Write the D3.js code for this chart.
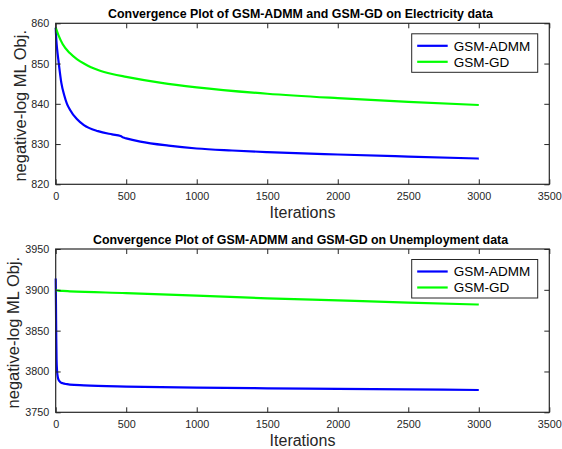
<!DOCTYPE html>
<html>
<head>
<meta charset="utf-8">
<script src="https://cdn.jsdelivr.net/npm/d3@7/dist/d3.min.js"></script>
<style>
  html, body { margin: 0; padding: 0; background: #fff; }
  svg { display: block; font-family: "Liberation Sans", Arial, Helvetica, sans-serif; }
</style>
</head>
<body>
<svg id="chart" width="562" height="449"></svg>
<script>
// Series names
const seriesNames = ["GSM-ADMM", "GSM-GD"];
const seriesColors = ["#0000ff", "#00ff00"];

// Shared x ticks
const xTicks = [0, 500, 1000, 1500, 2000, 2500, 3000, 3500];

// Electricity data: objective vs iteration
const elecAdmmIter = [0, 5, 10, 20, 40, 60, 80, 100, 150, 200, 300, 400, 460, 480, 500, 600, 800, 1000, 1250, 1500, 2000, 2500, 3000];
const elecAdmmVal  = [858.9, 855.6, 853.6, 850.6, 845.2, 842.2, 840.0, 838.6, 836.2, 834.7, 833.2, 832.4, 832.0, 831.6, 831.4, 830.6, 829.6, 828.9, 828.4, 828.0, 827.4, 826.9, 826.4];
const elecGdIter   = [0, 20, 50, 100, 150, 200, 250, 300, 400, 500, 750, 1000, 1500, 2000, 2500, 3000];
const elecGdVal    = [858.9, 857.0, 854.8, 852.6, 851.1, 850.0, 849.1, 848.4, 847.4, 846.7, 845.2, 844.1, 842.5, 841.4, 840.5, 839.7];
const elecYTicks   = [820, 830, 840, 850, 860];

// Unemployment data: objective vs iteration
const unempAdmmIter = [0, 2, 4, 6, 10, 15, 20, 30, 50, 80, 100, 200, 500, 1000, 1500, 2000, 2500, 3000];
const unempAdmmVal  = [3914, 3880, 3840, 3815, 3800, 3793, 3790, 3787.5, 3785.5, 3784.5, 3784, 3783, 3781.5, 3780.3, 3779.4, 3778.7, 3778, 3777.3];
const unempGdIter   = [0, 20, 50, 100, 500, 1000, 1500, 2000, 2500, 3000];
const unempGdVal    = [3899.8, 3899.0, 3898.6, 3898.2, 3896.0, 3893.0, 3889.6, 3887.0, 3884.4, 3882.0];
const unempYTicks   = [3750, 3800, 3850, 3900, 3950];

const panels = [
  {
    title: "Convergence Plot of GSM-ADMM and GSM-GD on Electricity data",
    top: 23.3, bottom: 184.3, yLabelX: 26,
    yDomain: [820, 860], yTicks: elecYTicks,
    series: [
      { iter: elecAdmmIter, val: elecAdmmVal },
      { iter: elecGdIter, val: elecGdVal }
    ]
  },
  {
    title: "Convergence Plot of GSM-ADMM and GSM-GD on Unemployment data",
    top: 249, bottom: 412.3, yLabelX: 19,
    yDomain: [3750, 3950], yTicks: unempYTicks,
    series: [
      { iter: unempAdmmIter, val: unempAdmmVal },
      { iter: unempGdIter, val: unempGdVal }
    ]
  }
];

const svg = d3.select("#chart");
const left = 55.7, right = 549.3;
const axisColor = "#262626";
const tickLen = 5;

panels.forEach((p, pi) => {
  const x = d3.scaleLinear().domain([0, 3500]).range([left, right]);
  const y = d3.scaleLinear().domain(p.yDomain).range([p.bottom, p.top]);
  const g = svg.append("g");

  // Lines
  const line = d3.line().curve(d3.curveMonotoneX);
  p.series.forEach((s, i) => {
    const pts = s.iter.map((it, k) => [x(it), y(s.val[k])]);
    g.append("path")
      .attr("d", line(pts))
      .attr("fill", "none")
      .attr("stroke", seriesColors[i])
      .attr("stroke-width", 2.2)
      .attr("stroke-linejoin", "round")
      .attr("stroke-linecap", "butt");
  });

  // Bottom axis (ticks point inward)
  const xAxisB = d3.axisBottom(x).tickValues(xTicks).tickSize(-tickLen).tickPadding(8.5).tickFormat(d3.format("d"));
  const gxb = g.append("g").attr("transform", `translate(0,${p.bottom})`).call(xAxisB);
  // Top axis mirror ticks
  const xAxisT = d3.axisTop(x).tickValues(xTicks).tickSize(-tickLen).tickFormat("");
  const gxt = g.append("g").attr("transform", `translate(0,${p.top})`).call(xAxisT);
  // Left axis
  const yAxisL = d3.axisLeft(y).tickValues(p.yTicks).tickSize(-tickLen).tickPadding(6.4).tickFormat(d3.format("d"));
  const gyl = g.append("g").attr("transform", `translate(${left},0)`).call(yAxisL);
  // Right axis mirror ticks
  const yAxisR = d3.axisRight(y).tickValues(p.yTicks).tickSize(-tickLen).tickFormat("");
  const gyr = g.append("g").attr("transform", `translate(${right},0)`).call(yAxisR);

  [gxb, gxt, gyl, gyr].forEach(a => {
    a.select(".domain").remove();
    a.selectAll(".tick line").attr("stroke", axisColor).attr("stroke-width", 1);
    a.selectAll(".tick text")
      .attr("fill", axisColor)
      .style("font-size", "10.8px")
      .style("font-family", "'Liberation Sans', Arial, Helvetica, sans-serif");
  });
  // Axes box
  g.append("rect")
    .attr("x", left).attr("y", p.top)
    .attr("width", right - left).attr("height", p.bottom - p.top)
    .attr("fill", "none").attr("stroke", axisColor).attr("stroke-width", 1.2);

  // Title
  g.append("text")
    .attr("x", (left + right) / 2 - 2).attr("y", p.top - 5)
    .attr("text-anchor", "middle")
    .style("font-weight", "bold").style("font-size", "12.4px")
    .attr("fill", "#000")
    .text(p.title);

  // X label
  g.append("text")
    .attr("x", (left + right) / 2).attr("y", p.bottom + 33.5)
    .attr("text-anchor", "middle")
    .style("font-size", "16px")
    .attr("fill", axisColor)
    .text("Iterations");

  // Y label
  g.append("text")
    .attr("transform", `translate(${p.yLabelX},${(p.top + p.bottom) / 2 + 2}) rotate(-90)`)
    .attr("text-anchor", "middle")
    .style("font-size", "16.5px")
    .attr("fill", axisColor)
    .text("negative-log ML Obj.");

  // Legend
  const lx = 411.7, ly = p.top + 10.5, lw = 126, lh = 38.5;
  const lg = g.append("g");
  lg.append("rect")
    .attr("x", lx).attr("y", ly).attr("width", lw).attr("height", lh)
    .attr("fill", "#fff").attr("stroke", axisColor).attr("stroke-width", 1);
  seriesNames.forEach((name, i) => {
    const cy = ly + 12 + i * 16;
    lg.append("line")
      .attr("x1", lx + 5.5).attr("x2", lx + 36)
      .attr("y1", cy).attr("y2", cy)
      .attr("stroke", seriesColors[i]).attr("stroke-width", 2.2);
    lg.append("text")
      .attr("x", lx + 42).attr("y", cy)
      .attr("dy", "0.36em")
      .style("font-size", "13.5px")
      .attr("fill", "#000")
      .text(name);
  });
});
</script>
</body>
</html>
